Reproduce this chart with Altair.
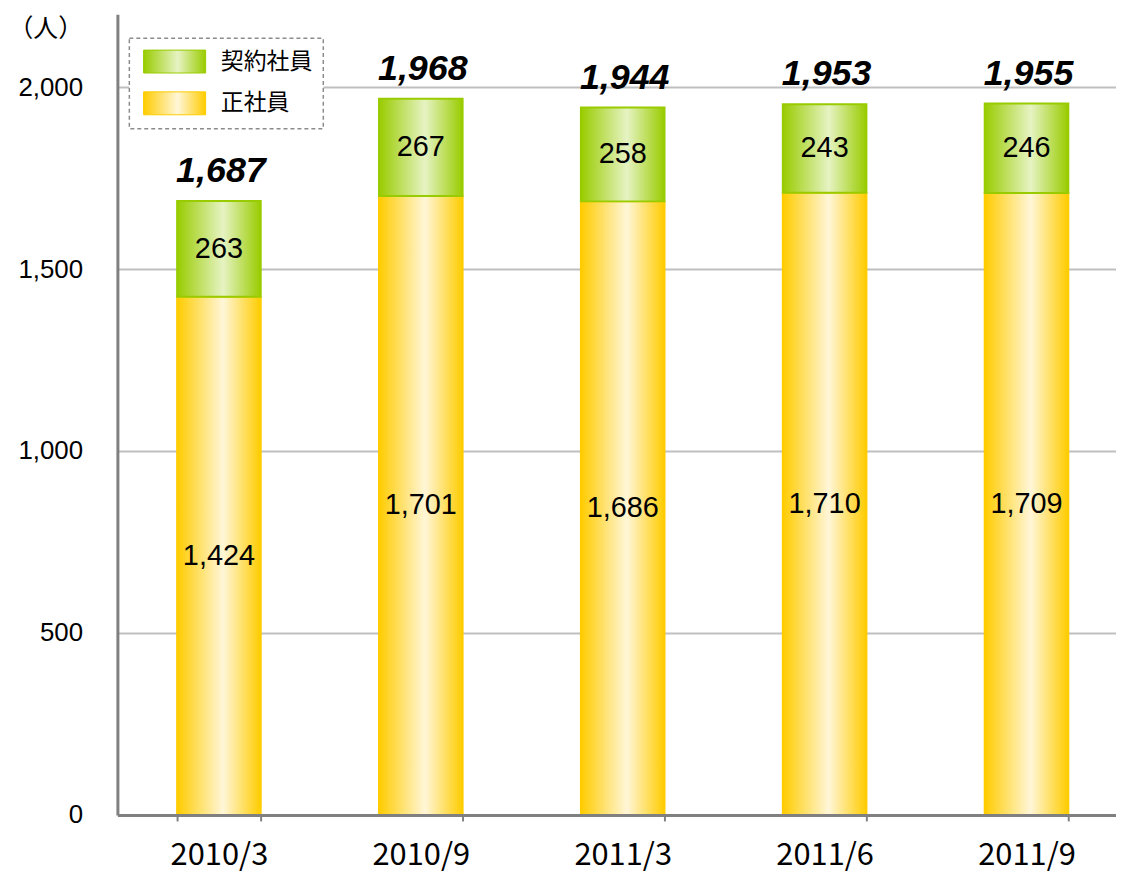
import altair as alt
import pandas as pd

categories = ["2010/3", "2010/9", "2011/3", "2011/6", "2011/9"]
seishain = [1424, 1701, 1686, 1710, 1709]      # 正社員
keiyaku = [263, 267, 258, 243, 246]             # 契約社員
totals = [1687, 1968, 1944, 1953, 1955]
series_names = ["契約社員", "正社員"]
y_ticks = [0, 500, 1000, 1500, 2000]

rows = []
for c, s, k in zip(categories, seishain, keiyaku):
    rows.append({"cat": c, "type": "正社員", "start": 0, "end": s, "value": s})
    rows.append({"cat": c, "type": "契約社員", "start": s, "end": s + k, "value": k})
df = pd.DataFrame(rows)
df_tot = pd.DataFrame({"cat": categories, "total": totals})

GREEN_EDGE, GREEN_MID = "#99cc00", "#e6f3c3"
YEL_EDGE, YEL_MID = "#ffcc00", "#fff6d8"


def grad_expr(edge, mid):
    return (
        "{gradient: 'linear', x1: 0, y1: 0, x2: 1, y2: 0, stops: ["
        f"{{offset: 0, color: '{edge}'}}, "
        f"{{offset: 0.55, color: '{mid}'}}, "
        f"{{offset: 1, color: '{edge}'}}]}}"
    )


fill_expr = (
    "(datum.type || datum.value) === '契約社員' ? "
    + grad_expr(GREEN_EDGE, GREEN_MID)
    + " : "
    + grad_expr(YEL_EDGE, YEL_MID)
)

x_enc = alt.X(
    "cat:N",
    sort=categories,
    scale=alt.Scale(paddingInner=0.586, paddingOuter=0.266, align=0.556),
    axis=alt.Axis(
        title=None, labelAngle=0, labelFont="Noto Sans CJK JP", labelFontSize=31,
        labelColor="#000000", labelBaseline="middle", labelPadding=35,
        domainColor="#808080", domainWidth=3, tickColor="#808080", tickWidth=2,
        tickSize=6, tickBand="extent", grid=False, zindex=1,
    ),
)

y_scale = alt.Scale(domain=[0, 2200], nice=False)
y_axis = alt.Axis(
    title="（人）", titleAngle=0, titleX=-110, titleY=14, titleAlign="left",
    titleBaseline="middle", titleFont="Noto Sans CJK JP", titleFontSize=25,
    titleFontWeight="normal", titleColor="#000000",
    values=y_ticks, format=",d", labelFont="Liberation Sans", labelFontSize=26,
    labelColor="#000000", labelPadding=35, ticks=False,
    domainColor="#808080", domainWidth=3, gridColor="#bfbfbf", gridWidth=2,
)

stroke_enc = alt.Stroke(
    "type:N",
    scale=alt.Scale(domain=series_names, range=[GREEN_EDGE, YEL_EDGE]),
    legend=alt.Legend(
        title=None, orient="none", legendX=12, legendY=24,
        symbolType="M-2.6,-0.96H2.6V0.96H-2.6Z", symbolSize=576,
        symbolStrokeWidth=1, symbolOffset=22,
        labelFont="Noto Sans CJK JP", labelFontSize=23,
        labelExpr="datum.label + '\u2002\u2009'",
        labelColor="#000000", labelOffset=34, padding=11,
        fillColor="white",
    ),
)

base = alt.Chart(df)

bars = base.mark_bar(fill=alt.ExprRef(fill_expr), strokeWidth=2).encode(
    x=x_enc,
    y=alt.Y("start:Q", scale=y_scale, axis=y_axis),
    y2="end:Q",
    stroke=stroke_enc,
)

seg_text = base.transform_calculate(mid="(datum.start + datum.end) / 2").mark_text(
    font="Liberation Sans", fontSize=29, color="#000000", baseline="middle"
).encode(
    x=alt.X("cat:N", sort=categories),
    y=alt.Y("mid:Q", scale=y_scale),
    text=alt.Text("value:Q", format=",d"),
)

tot_text = alt.Chart(df_tot).mark_text(
    font="Liberation Sans", fontSize=36, fontWeight="bold", fontStyle="italic",
    color="#000000", baseline="alphabetic", dy=-19, dx=2
).encode(
    x=alt.X("cat:N", sort=categories),
    y=alt.Y("total:Q", scale=y_scale),
    text=alt.Text("total:Q", format=",d"),
)

chart = alt.layer(bars, seg_text, tot_text).properties(
    width=1004, height=805,
    background="white",
    autosize=alt.AutoSizeParams(type="none"),
    padding={"left": 110, "top": 4, "right": 0, "bottom": 58},
).configure_view(stroke=None, strokeWidth=0).configure_legend(
    strokeColor="#8c8c8c", strokeDash=[4, 3], strokeWidth=1.5, rowPadding=13,
)

chart.save("out.html", embed_options={"renderer": "svg", "actions": False})
